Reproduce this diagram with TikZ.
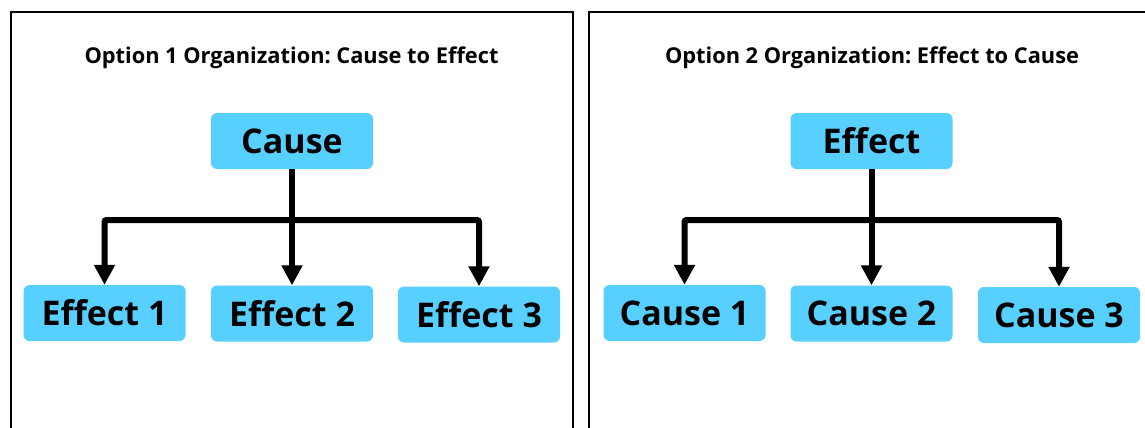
\documentclass[tikz,border=0pt]{standalone}
\usepackage{fontspec}
\setmainfont{Open Sans}
\usepackage{tikz}
\usetikzlibrary{arrows.meta,positioning}
\definecolor{boxblue}{RGB}{88,208,255}
\frenchspacing

\begin{document}
\begin{tikzpicture}[x=1pt,y=-1pt,
  box/.style={fill=boxblue,rounded corners=6pt,minimum width=162pt,minimum height=56pt,inner sep=0pt,font=\fontsize{34}{37}\selectfont\bfseries},
  heading/.style={font=\fontsize{21.8}{24}\selectfont\bfseries},
  link/.style={line width=6pt,rounded corners=2pt,-{Triangle[width=20pt,length=20pt]}},
  frame/.style={line width=2pt}]
\path[use as bounding box,fill=white] (0,0) rectangle (1145,428);
\draw[frame] (10.5,428) -- (10.5,12) -- (573,12) -- (573,428);
\draw[frame] (589,428) -- (589,12) -- (1145,12);

\node[heading] (title1) at (291.5,58) {Option 1 Organization: Cause to Effect};
\node[box] (cause) at (292,141) {Cause};
\node[box] (eff1) at (104.5,313) {Effect 1};
\node[box] (eff2) at (292,313.5) {Effect 2};
\node[box] (eff3) at (479,314.5) {Effect 3};
\coordinate (lsplit) at (292,220);
\draw[link] (cause.south) -- (eff2.north);
\draw[link] (lsplit) -| (eff1.north);
\draw[link] (lsplit) -| (eff3.north);

\node[heading] (title2) at (872,58) {Option 2 Organization: Effect to Cause};
\node[box] (effect) at (871.5,141) {Effect};
\node[box] (cau1) at (684.5,313) {Cause 1};
\node[box] (cau2) at (871.5,313.5) {Cause 2};
\node[box] (cau3) at (1059,315) {Cause 3};
\coordinate (rsplit) at (871.5,220);
\draw[link] (effect.south) -- (cau2.north);
\draw[link] (rsplit) -| (cau1.north);
\draw[link] (rsplit) -| (cau3.north);
\end{tikzpicture}
\end{document}
